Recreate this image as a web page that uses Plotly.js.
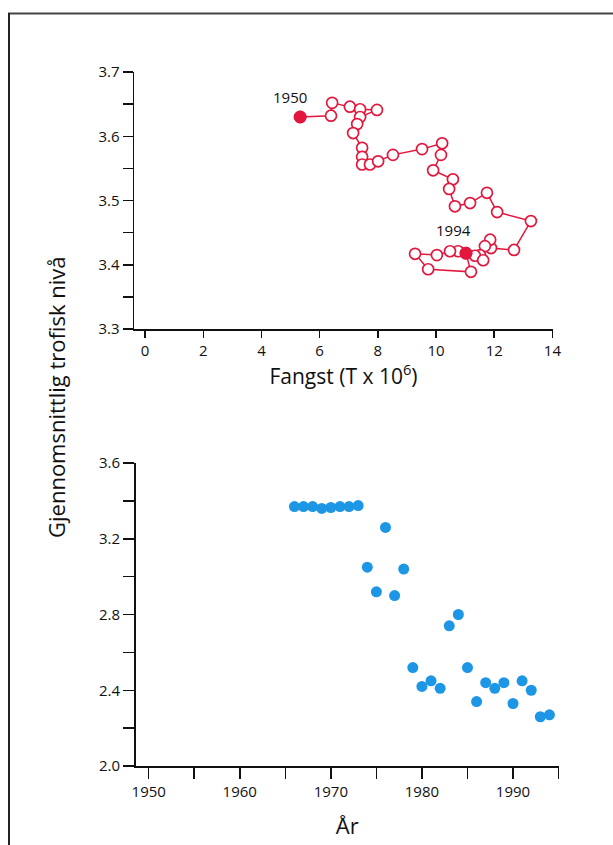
<!DOCTYPE html>
<html>
<head>
<meta charset="utf-8">
<script src="https://cdn.plot.ly/plotly-3.0.1.min.js"></script>
<style>
html,body{margin:0;padding:0;background:#fff;}
#chart{width:613px;height:845px;}
</style>
</head>
<body>
<div id="chart"></div>
<script>
// Top panel: catch (T x 10^6) vs mean trophic level, path 1950 -> 1994
const catchX = [5.33, 6.39, 6.43, 7.04, 7.39, 7.97, 7.39, 7.29, 7.15, 7.46,
                7.46, 7.46, 7.73, 8.01, 8.52, 9.52, 10.21, 10.17, 9.90, 10.58,
                10.45, 10.65, 11.17, 11.75, 12.10, 13.26, 12.68, 11.89, 11.86, 11.68,
                11.51, 11.34, 11.62, 10.76, 10.48, 10.03, 9.28, 9.73, 11.20, 11.03];
const trophicTop = [3.630, 3.632, 3.652, 3.646, 3.642, 3.641, 3.630, 3.619, 3.605, 3.582,
                    3.568, 3.556, 3.556, 3.561, 3.571, 3.580, 3.589, 3.571, 3.547, 3.533,
                    3.518, 3.491, 3.496, 3.512, 3.482, 3.468, 3.423, 3.426, 3.439, 3.429,
                    3.415, 3.414, 3.407, 3.421, 3.421, 3.415, 3.417, 3.393, 3.389, 3.418];
const endLabels = ["1950", "1994"];

// Bottom panel: year vs mean trophic level
const years = [1966, 1967, 1968, 1969, 1970, 1971, 1972, 1973, 1974, 1975,
               1976, 1977, 1978, 1979, 1980, 1981, 1982, 1983, 1984, 1985,
               1986, 1987, 1988, 1989, 1990, 1991, 1992, 1993, 1994];
const trophicBottom = [3.37, 3.37, 3.37, 3.36, 3.365, 3.37, 3.37, 3.375, 3.05, 2.92,
                       3.26, 2.90, 3.04, 2.52, 2.42, 2.45, 2.41, 2.74, 2.80, 2.52,
                       2.34, 2.44, 2.41, 2.44, 2.33, 2.45, 2.40, 2.26, 2.27];

const topXTicks = [0, 2, 4, 6, 8, 10, 12, 14];
const topYTicks = [3.3, 3.4, 3.5, 3.6, 3.7];
const botXTicks = [1950, 1960, 1970, 1980, 1990];
const botYTicks = [2.0, 2.4, 2.8, 3.2, 3.6];

const RED = "#e3173e";
const BLUE = "#1e96e6";
const FONT = "Open Sans, sans-serif";
const INK = "#111";
const last = catchX.length - 1;

const traces = [
  {
    x: catchX, y: trophicTop, xaxis: "x", yaxis: "y",
    mode: "lines+markers", type: "scatter",
    line: {color: RED, width: 1.5},
    marker: {symbol: "circle", size: 11, color: "#ffffff", line: {color: RED, width: 1.7}},
    showlegend: false
  },
  {
    x: [catchX[0], catchX[last]], y: [trophicTop[0], trophicTop[last]],
    xaxis: "x", yaxis: "y", mode: "markers", type: "scatter",
    marker: {symbol: "circle", size: 12, color: RED, line: {color: RED, width: 1}},
    showlegend: false
  },
  {
    x: years, y: trophicBottom, xaxis: "x2", yaxis: "y2",
    mode: "markers", type: "scatter",
    marker: {symbol: "circle", size: 11, color: BLUE},
    showlegend: false
  }
];

const axisCommon = {
  showline: true, linecolor: INK, linewidth: 1.5,
  ticks: "outside", tickcolor: INK, tickwidth: 1.5,
  showgrid: false, zeroline: false,
  tickfont: {family: FONT, size: 15, color: INK},
  fixedrange: true
};

const layout = {
  width: 613, height: 845,
  margin: {l: 0, r: 0, t: 0, b: 0},
  paper_bgcolor: "#ffffff", plot_bgcolor: "#ffffff",
  font: {family: FONT, color: INK},
  showlegend: false,
  xaxis: Object.assign({}, axisCommon, {
    domain: [134/613, 553/613], anchor: "y",
    range: [-0.38, 14.02], tickmode: "array", tickvals: topXTicks,
    ticklen: 7,
    title: {text: "Fangst (T x 10<sup>6</sup>)", font: {family: FONT, size: 21, color: INK}, standoff: 9}
  }),
  yaxis: Object.assign({}, axisCommon, {
    domain: [1 - 329/845, 1 - 72/845], anchor: "x",
    range: [3.3, 3.7], tickmode: "array", tickvals: topYTicks, ticktext: topYTicks.map(v => v.toFixed(1)),
    ticklen: 10,
    minor: {tick0: 3.3, dtick: 0.05, ticks: "outside", ticklen: 10, tickwidth: 1.5, tickcolor: INK, showgrid: false}
  }),
  xaxis2: Object.assign({}, axisCommon, {
    domain: [135.5/613, 559/613], anchor: "y2",
    range: [1948.55, 1995.05], tickmode: "array", tickvals: botXTicks,
    ticklen: 11,
    minor: {tick0: 1950, dtick: 5, ticks: "outside", ticklen: 11, tickwidth: 1.5, tickcolor: INK, showgrid: false},
    title: {text: "År", font: {family: FONT, size: 22, color: INK}, standoff: 19}
  }),
  yaxis2: Object.assign({}, axisCommon, {
    domain: [1 - 766/845, 1 - 463/845], anchor: "x2",
    range: [2.0, 3.6], tickmode: "array", tickvals: botYTicks, ticktext: botYTicks.map(v => v.toFixed(1)),
    ticklen: 11,
    minor: {tick0: 2.0, dtick: 0.2, ticks: "outside", ticklen: 11, tickwidth: 1.5, tickcolor: INK, showgrid: false}
  }),
  annotations: [
    {x: catchX[0], y: trophicTop[0], xref: "x", yref: "y", text: endLabels[0],
     showarrow: false, xanchor: "center", yanchor: "bottom", xshift: -10, yshift: 8,
     font: {family: FONT, size: 15, color: INK}},
    {x: catchX[last], y: trophicTop[last], xref: "x", yref: "y", text: endLabels[1],
     showarrow: false, xanchor: "center", yanchor: "bottom", xshift: -13, yshift: 11,
     font: {family: FONT, size: 15, color: INK}},
    {x: 56/613, y: 1 - 397/845, xref: "paper", yref: "paper",
     text: "Gjennomsnittlig trofisk nivå", textangle: -90, showarrow: false,
     xanchor: "center", yanchor: "middle",
     font: {family: FONT, size: 22, color: INK}}
  ],
  shapes: [
    {type: "line", xref: "paper", yref: "paper", x0: 8/613, x1: 1, y0: 1 - 13.5/845, y1: 1 - 13.5/845,
     line: {color: "#444", width: 2}},
    {type: "line", xref: "paper", yref: "paper", x0: 9/613, x1: 9/613, y0: 0, y1: 1 - 13/845,
     line: {color: "#222", width: 2}}
  ]
};

Plotly.newPlot("chart", traces, layout, {displayModeBar: false, staticPlot: true});
</script>
</body>
</html>
